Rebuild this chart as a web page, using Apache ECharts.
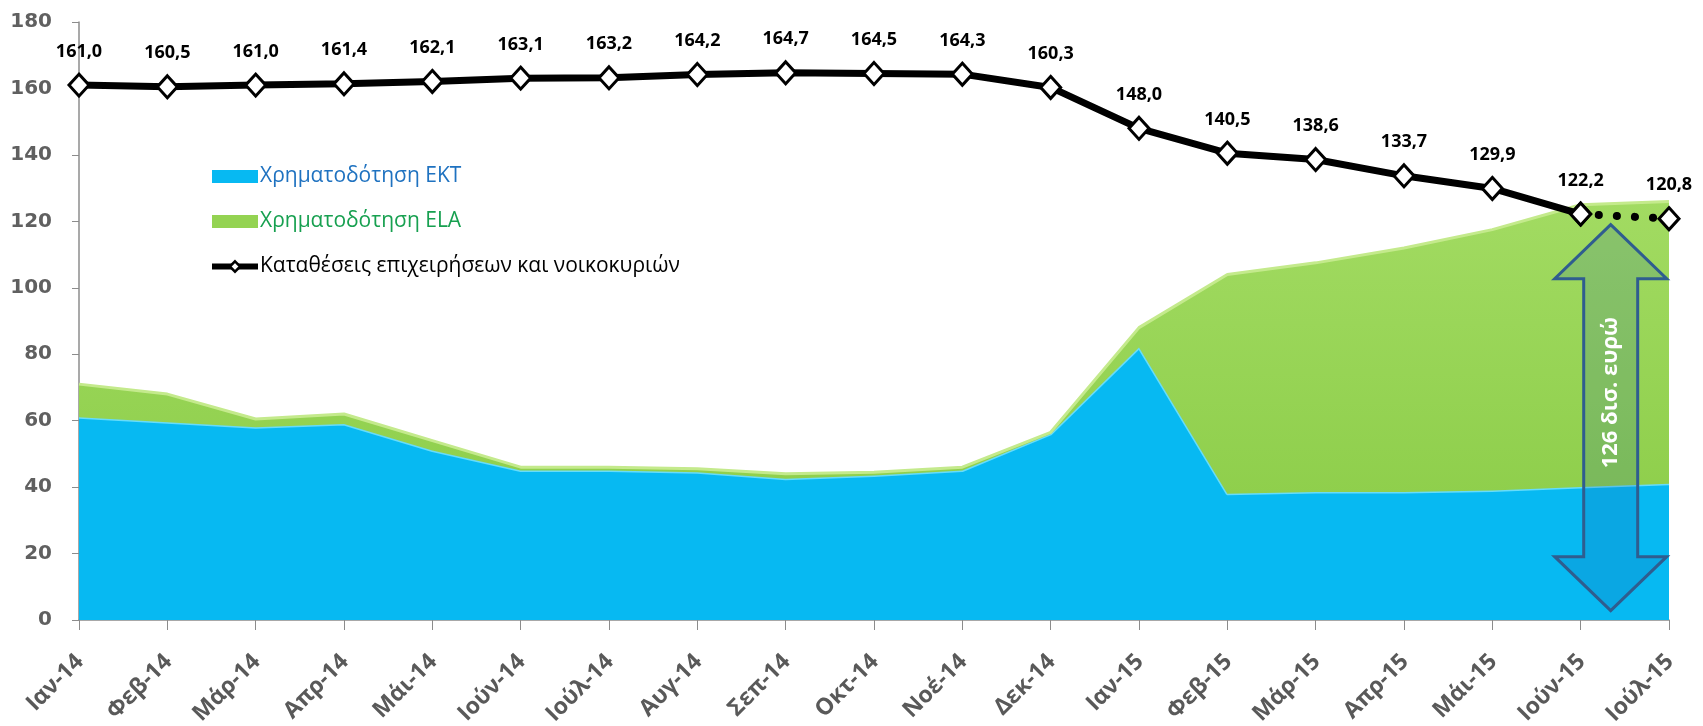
<!DOCTYPE html>
<html>
<head>
<meta charset="utf-8">
<script src="https://cdn.jsdelivr.net/npm/echarts@6/dist/echarts.min.js"></script>
<style>
    html, body { margin: 0; padding: 0; background: #fff; }
    #chart { width: 1703px; height: 726px; }
</style>
</head>
<body>
<div id="chart"></div>
<script>
    // μήνες
    var months = ['Ιαν-14', 'Φεβ-14', 'Μάρ-14', 'Απρ-14', 'Μάι-14', 'Ιούν-14', 'Ιούλ-14', 'Αυγ-14', 'Σεπ-14',
        'Οκτ-14', 'Νοέ-14', 'Δεκ-14', 'Ιαν-15', 'Φεβ-15', 'Μάρ-15', 'Απρ-15', 'Μάι-15', 'Ιούν-15', 'Ιούλ-15'];
    var ektFunding = [61, 59.5, 58, 59, 51, 45, 45, 44.5, 42.5, 43.5, 45, 56, 82, 38, 38.5, 38.5, 39, 40, 41];
    var elaFunding = [10, 8.5, 2.5, 3, 3, 1, 1, 1, 1.5, 1, 1, 0.5, 6, 66, 69, 73.5, 78.5, 85, 85];
    var deposits = [161.0, 160.5, 161.0, 161.4, 162.1, 163.1, 163.2, 164.2, 164.7, 164.5, 164.3, 160.3,
        148.0, 140.5, 138.6, 133.7, 129.9, 122.2, 120.8];
    var yTicks = { min: 0, max: 180, interval: 20 };
    var arrowText = '126 δισ. ευρώ';

    var solidPart = deposits.map(function (v, i) { return i < deposits.length - 1 ? v : null; });
    var dottedPart = deposits.map(function (v, i) { return i >= deposits.length - 2 ? v : null; });

    var fmt = function (p) { return p.value == null ? '' : p.value.toFixed(1).replace('.', ','); };
    var labelStyle = {
        show: true,
        position: 'top',
        distance: 12,
        color: '#000',
        fontFamily: 'Open Sans',
        fontWeight: 'bold',
        fontSize: 18
    };

    var myChart = echarts.init(document.getElementById('chart'));
    myChart.setOption({
        animation: false,
        grid: { left: 79, right: 34, top: 22, bottom: 106 },
        legend: {
            orient: 'vertical',
            left: 204,
            top: 161,
            itemGap: 24,
            itemWidth: 46,
            itemHeight: 13,
            textStyle: { fontFamily: 'Open Sans', fontSize: 21, padding: [0, 0, 0, -3] },
            data: [
                { name: 'Χρηματοδότηση ΕΚΤ', icon: 'rect', textStyle: { color: '#1f72c0' } },
                { name: 'Χρηματοδότηση ELA', icon: 'rect', textStyle: { color: '#17a050' } },
                {
                    name: 'Καταθέσεις επιχειρήσεων και νοικοκυριών',
                    textStyle: { color: '#000' },
                    lineStyle: { width: 6 },
                    itemStyle: { borderWidth: 2.5 }
                }
            ]
        },
        xAxis: {
            type: 'category',
            data: months,
            boundaryGap: false,
            axisLine: { lineStyle: { color: '#8c8c8c', width: 1.5 } },
            axisTick: { show: true, length: 10, lineStyle: { color: '#8c8c8c' } },
            axisLabel: { show: false }, // ετικέτες σχεδιάζονται πλάγια παρακάτω
            splitLine: { show: false }
        },
        yAxis: {
            type: 'value',
            min: yTicks.min,
            max: yTicks.max,
            interval: yTicks.interval,
            axisLine: { show: true, lineStyle: { color: '#8c8c8c', width: 1.5 } },
            axisTick: { show: true, length: 7, lineStyle: { color: '#8c8c8c' } },
            axisLabel: {
                margin: 27,
                color: '#606060',
                fontFamily: 'DejaVu Sans',
                fontWeight: 'bold',
                fontSize: 20
            },
            splitLine: { show: false }
        },
        series: [
            {
                name: 'Χρηματοδότηση ΕΚΤ',
                type: 'line',
                stack: 'funding',
                data: ektFunding,
                symbol: 'none',
                lineStyle: { color: '#66dcfb', width: 3 },
                itemStyle: { color: '#07b9f2' },
                areaStyle: { color: '#07b9f2', opacity: 1 },
                z: 2
            },
            {
                name: 'Χρηματοδότηση ELA',
                type: 'line',
                stack: 'funding',
                data: elaFunding,
                symbol: 'none',
                lineStyle: { color: '#c4ea8c', width: 3 },
                itemStyle: { color: '#94d352' },
                areaStyle: {
                    opacity: 1,
                    color: new echarts.graphic.LinearGradient(0, 0, 0, 1, [
                        { offset: 0, color: '#a2db62' },
                        { offset: 1, color: '#8fcf4c' }
                    ])
                },
                z: 3
            },
            {
                name: 'Καταθέσεις επιχειρήσεων και νοικοκυριών',
                type: 'line',
                data: solidPart,
                symbol: 'diamond',
                symbolSize: [20, 22],
                showAllSymbol: true,
                lineStyle: { color: '#000', width: 7 },
                itemStyle: { color: '#fff', borderColor: '#000', borderWidth: 3 },
                label: Object.assign({}, labelStyle, { formatter: fmt }),
                z: 10
            },
            {
                name: 'dotted',
                type: 'line',
                data: dottedPart,
                symbol: 'diamond',
                symbolSize: [20, 22],
                showAllSymbol: true,
                lineStyle: { color: '#000', width: 8, type: [0.1, 18], cap: 'round' },
                itemStyle: { color: '#fff', borderColor: '#000', borderWidth: 3 },
                label: Object.assign({}, labelStyle, {
                    formatter: function (p) { return p.dataIndex === deposits.length - 1 ? fmt(p) : ''; }
                }),
                z: 9
            }
        ]
    });

    var graphics = [];

    // πλάγιες ετικέτες μηνών, στη θέση κάθε κατηγορίας του άξονα
    months.forEach(function (m, i) {
        var p = myChart.convertToPixel({ seriesIndex: 0 }, [i, 0]);
        graphics.push({
            type: 'text',
            x: p[0] + 1,
            y: p[1] + 38,
            rotation: Math.PI / 4,
            style: {
                text: m,
                fill: '#595959',
                font: 'bold 23px "Open Sans"',
                textAlign: 'right',
                textVerticalAlign: 'middle'
            }
        });
    });

    // βέλος 126 δισ.
    var last = months.length - 1;
    var p17 = myChart.convertToPixel({ seriesIndex: 0 }, [last - 1, 0]);
    var p18 = myChart.convertToPixel({ seriesIndex: 0 }, [last, 0]);
    var cx = p17[0] + (p18[0] - p17[0]) * 0.34;
    var ty = myChart.convertToPixel({ seriesIndex: 0 }, [last, 119])[1];
    var by = myChart.convertToPixel({ seriesIndex: 0 }, [last, 2.8])[1];
    var h = 54, hw = 56, sw = 27;
    graphics.push({
        type: 'polygon',
        z: 5,
        shape: {
            points: [[cx, ty], [cx + hw, ty + h], [cx + sw, ty + h], [cx + sw, by - h], [cx + hw, by - h],
                [cx, by], [cx - hw, by - h], [cx - sw, by - h], [cx - sw, ty + h], [cx - hw, ty + h]]
        },
        style: { fill: 'rgba(30,90,160,0.18)', stroke: '#2f5d8f', lineWidth: 3 }
    });
    graphics.push({
        type: 'text',
        z: 6,
        x: cx,
        y: (ty + by) / 2 - 25,
        rotation: Math.PI / 2,
        style: {
            text: arrowText,
            fill: '#fff',
            font: 'bold 22px "Open Sans"',
            textAlign: 'center',
            textVerticalAlign: 'middle'
        }
    });
    myChart.setOption({ graphic: graphics });
</script>
</body>
</html>
